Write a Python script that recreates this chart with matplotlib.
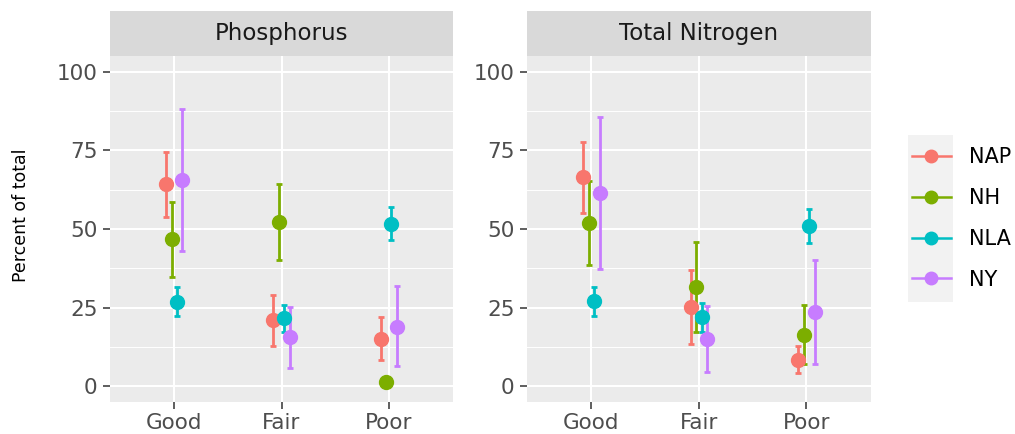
import matplotlib
matplotlib.use("Agg")
import matplotlib.pyplot as plt
import numpy as np
from matplotlib.lines import Line2D
from matplotlib.patches import Rectangle

categories = ["Good", "Fair", "Poor"]
sites = ["NAP", "NH", "NLA", "NY"]
colors = ["#F8766D", "#7CAE00", "#00BFC4", "#C77CFF"]

# rows = sites (NAP, NH, NLA, NY), cols = Good / Fair / Poor
phos_mean = [[64.4, 21.0, 15.0],
             [46.7, 52.1, 1.3],
             [26.8, 21.7, 51.6],
             [65.6, 15.6, 19.0]]
phos_low = [[53.9, 12.9, 8.2],
            [34.8, 40.3, 0.6],
            [22.2, 17.2, 46.4],
            [42.9, 5.9, 6.3]]
phos_high = [[74.6, 28.9, 21.9],
             [58.5, 64.3, 2.0],
             [31.6, 25.7, 56.9],
             [88.3, 25.2, 31.8]]

tn_mean = [[66.4, 25.2, 8.4],
           [52.0, 31.6, 16.4],
           [27.0, 22.0, 51.1],
           [61.4, 14.9, 23.6]]
tn_low = [[55.2, 13.5, 4.3],
          [38.7, 17.4, 7.0],
          [22.3, 17.4, 45.7],
          [37.2, 4.5, 7.1]]
tn_high = [[77.6, 36.9, 12.8],
           [65.4, 46.0, 25.7],
           [31.7, 26.5, 56.5],
           [85.7, 25.6, 40.2]]


def draw_panel(ax, title, mean, low, high):
    ax.set_facecolor("#EBEBEB")
    x = np.arange(len(categories))
    for i, site in enumerate(sites):
        off = (i - 1.5) * 0.05  # dodge width 0.2
        m = np.array(mean[i])
        lo = np.array(low[i])
        hi = np.array(high[i])
        ax.errorbar(x + off, m, yerr=[m - lo, hi - m], fmt="o", color=colors[i],
                    ms=10, elinewidth=2.0, capsize=2.5, capthick=2.0, zorder=3)

    ax.set_xlim(-0.6, 2.6)
    ax.set_ylim(-5, 105)
    ax.set_xticks(x)
    ax.set_xticklabels(categories)
    ax.set_yticks([0, 25, 50, 75, 100])
    ax.set_yticks([12.5, 37.5, 62.5, 87.5], minor=True)
    ax.grid(which="major", color="white", lw=1.5)
    ax.grid(which="minor", axis="y", color="white", lw=0.7)
    ax.set_axisbelow(True)
    for s in ax.spines.values():
        s.set_visible(False)
    ax.tick_params(which="major", length=5, width=1.1, color="#333333",
                   labelsize=15.5, labelcolor="#4D4D4D")
    ax.tick_params(axis="y", pad=4)
    ax.tick_params(axis="x", pad=3)
    ax.tick_params(which="minor", length=0)

    # facet strip
    ax.add_patch(Rectangle((0, 1), 1, 0.13, transform=ax.transAxes,
                           facecolor="#D9D9D9", edgecolor="none", clip_on=False))
    ax.text(0.5, 1.065, title, transform=ax.transAxes, ha="center", va="center",
            fontsize=16.5, color="#1A1A1A")


fig = plt.figure(figsize=(10.15, 4.34), dpi=100)
ax1 = fig.add_axes([0.1084, 0.0737, 0.3379, 0.7972])
ax2 = fig.add_axes([0.5192, 0.0737, 0.3389, 0.7972])

draw_panel(ax1, "Phosphorus", phos_mean, phos_low, phos_high)
draw_panel(ax2, "Total Nitrogen", tn_mean, tn_low, tn_high)

fig.text(0.021, 0.5035, "Percent of total", rotation=90,
         ha="center", va="center", fontsize=12.5, color="black")

# legend
fig.patches.append(Rectangle((0.8946, 0.304), 0.0443, 0.385, transform=fig.transFigure,
                             facecolor="#F2F2F2", edgecolor="none", zorder=0))
handles = [Line2D([0], [0], color=c, lw=1.8, marker="o", ms=9) for c in colors]
fig.legend(handles, sites, loc="center left", bbox_to_anchor=(0.8985, 0.4965),
           frameon=False, fontsize=15, handlelength=1.85, handletextpad=0.9,
           labelspacing=1.0, borderpad=0, borderaxespad=0)

fig.savefig("out.png", dpi=100)
